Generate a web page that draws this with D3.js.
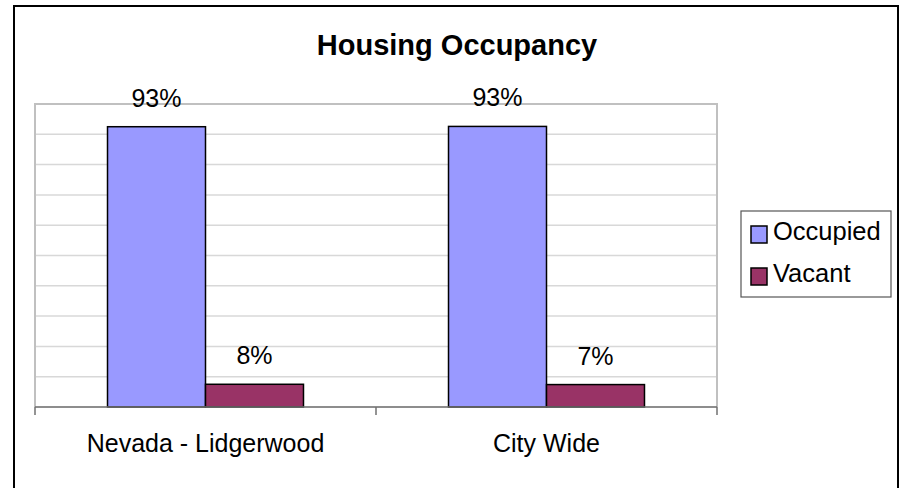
<!DOCTYPE html>
<html lang="en">
<head>
<meta charset="utf-8">
<title>Housing Occupancy</title>
<script src="https://d3js.org/d3.v7.min.js"></script>
<style>
  body { margin: 0; background: #fff; }
  text { font-family: "Liberation Sans", Arial, sans-serif; }
</style>
</head>
<body>
<div id="chart"></div>
<script>
// chart data
var categories = ["Nevada - Lidgerwood", "City Wide"]
var seriesNames = ["Occupied", "Vacant"]
var occupied = [0.925, 0.926]
var vacant = [0.075, 0.074]
var seriesColors = ["#9999FF", "#993366"]

var width = 900, height = 488
var plot = { left: 35, right: 717, top: 104, bottom: 407 }

var svg = d3.select("#chart").append("svg")
    .attr("width", width)
    .attr("height", height)

// outer frame
svg.append("rect")
    .attr("x", 14).attr("y", 6)
    .attr("width", 884).attr("height", 490)
    .attr("fill", "#fff")
    .attr("stroke", "#000")
    .attr("stroke-width", 2)

svg.append("text")
    .attr("x", 457).attr("y", 55)
    .attr("text-anchor", "middle")
    .style("font-size", "29px")
    .style("font-weight", "bold")
    .text("Housing Occupancy")

var y = d3.scaleLinear().domain([0, 1]).range([plot.bottom, plot.top])
var x0 = d3.scaleBand().domain(categories).range([plot.left, plot.right]).padding(0)
var x1 = d3.scaleBand().domain(seriesNames).range([0, x0.bandwidth()])
    .paddingInner(0).paddingOuter(0.74)
var color = d3.scaleOrdinal().domain(seriesNames).range(seriesColors)

// gridlines
svg.append("g")
    .selectAll("line")
    .data(y.ticks(10))
    .enter()
    .append("line")
    .attr("x1", plot.left).attr("x2", plot.right)
    .attr("y1", function (d) { return y(d) })
    .attr("y2", function (d) { return y(d) })
    .attr("stroke", "#d8d8d8")
    .attr("stroke-width", 1.5)

// plot area border (left, top, right)
svg.append("path")
    .attr("d", "M" + plot.left + "," + plot.bottom + "V" + plot.top + "H" + plot.right + "V" + plot.bottom)
    .attr("fill", "none")
    .attr("stroke", "#c0c0c0")
    .attr("stroke-width", 2)

var rows = categories.map(function (c, i) {
    return { cat: c, values: [
        { key: seriesNames[0], value: occupied[i] },
        { key: seriesNames[1], value: vacant[i] }
    ] }
})

var groups = svg.selectAll(".grp")
    .data(rows)
    .enter()
    .append("g")
    .attr("transform", function (d) { return "translate(" + x0(d.cat) + ",0)" })

groups.selectAll("rect")
    .data(function (d) { return d.values })
    .enter()
    .append("rect")
    .attr("x", function (d) { return x1(d.key) })
    .attr("y", function (d) { return y(d.value) })
    .attr("width", x1.bandwidth())
    .attr("height", function (d) { return y(0) - y(d.value) })
    .attr("fill", function (d) { return color(d.key) })
    .attr("stroke", "#000")
    .attr("stroke-width", 1.5)

groups.selectAll(".lbl")
    .data(function (d) { return d.values })
    .enter()
    .append("text")
    .attr("x", function (d) { return x1(d.key) + x1.bandwidth() / 2 })
    .attr("y", function (d) { return y(d.value) - 20 })
    .attr("text-anchor", "middle")
    .style("font-size", "25px")
    .text(function (d) { return d3.format(".0%")(d.value) })

// category axis
var axis = svg.append("g")
svg.append("line")
    .attr("x1", plot.left).attr("x2", plot.right)
    .attr("y1", y(0)).attr("y2", y(0))
    .attr("stroke", "#707070")
    .attr("stroke-width", 1.5)
axis.selectAll("line")
    .data(categories.map(function (c) { return x0(c) }).concat([plot.right]))
    .enter()
    .append("line")
    .attr("x1", function (d) { return d }).attr("x2", function (d) { return d })
    .attr("y1", y(0)).attr("y2", y(0) + 8)
    .attr("stroke", "#707070")
    .attr("stroke-width", 1.5)
axis.selectAll("text")
    .data(categories)
    .enter()
    .append("text")
    .attr("x", function (d) { return x0(d) + x0.bandwidth() / 2 })
    .attr("y", 452)
    .attr("text-anchor", "middle")
    .style("font-size", "25px")
    .text(function (d) { return d })

// legend
var legend = svg.append("g").attr("transform", "translate(741,211)")
legend.append("rect")
    .attr("width", 150).attr("height", 86)
    .attr("fill", "#fff")
    .attr("stroke", "#555")
    .attr("stroke-width", 1.2)
var items = legend.selectAll(".item")
    .data(seriesNames)
    .enter()
    .append("g")
    .attr("transform", function (d, i) { return "translate(10," + (15 + i * 42) + ")" })
items.append("rect")
    .attr("width", 16).attr("height", 17)
    .attr("fill", function (d) { return color(d) })
    .attr("stroke", "#000")
    .attr("stroke-width", 1.5)
items.append("text")
    .attr("x", 22).attr("y", 14)
    .style("font-size", "25.5px")
    .text(function (d) { return d })
</script>
</body>
</html>
